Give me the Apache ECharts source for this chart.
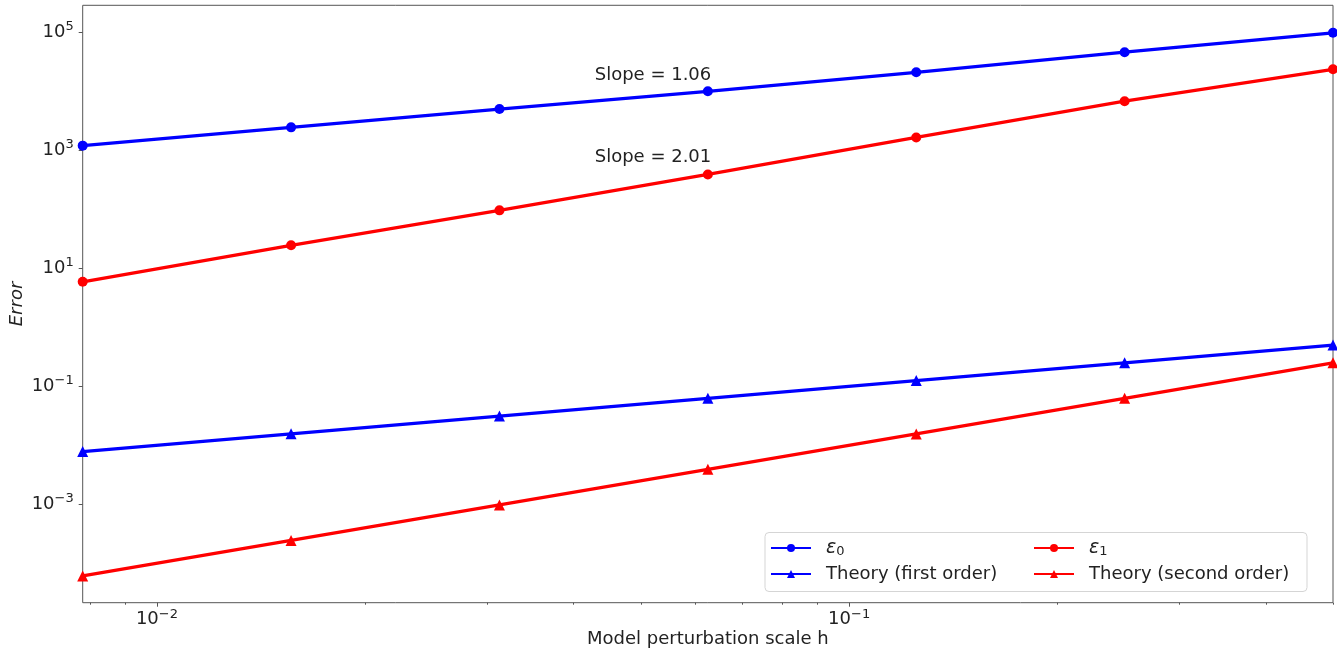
<!DOCTYPE html>
<html><head><meta charset="utf-8">
<script src="https://cdn.jsdelivr.net/npm/echarts@6/dist/echarts.min.js"></script>
<style>html,body{margin:0;padding:0;background:#fff}#c{width:1337px;height:652px}</style>
</head><body><div id="c"></div>
<script>
// ---- data ----
const hValues = [0.0078125, 0.015625, 0.03125, 0.0625, 0.125, 0.25, 0.5];
const eps0 = [1200, 2450, 5000, 10000, 21000, 46000, 98000];
const eps1 = [5.9, 24.5, 96, 390, 1650, 6800, 23600];
const theoryFirst = [0.0078125, 0.015625, 0.03125, 0.0625, 0.125, 0.25, 0.5];
const theorySecond = [6.1e-5, 2.44e-4, 9.77e-4, 3.91e-3, 0.0156, 0.0625, 0.25];
const seriesNames = ['ε0', 'Theory (first order)', 'ε1', 'Theory (second order)'];
const xMajorTicks = [0.01, 0.1];
const xMinorTicks = [0.008, 0.009, 0.02, 0.03, 0.04, 0.05, 0.06, 0.07, 0.08, 0.09, 0.2, 0.3, 0.4, 0.5];
const yMajorTicks = [1e-3, 1e-1, 1e1, 1e3, 1e5];
const slopeLabels = ['Slope = 1.06', 'Slope = 2.01'];

const FONT = 'DejaVu Sans';
const TXT = '#222';
const BLUE = '#0000ff', RED = '#ff0000';

function powLabel(v) {
  const e = Math.round(Math.log10(v));
  return '{b|10}{s|' + (e < 0 ? '\u2212' : '') + Math.abs(e) + '}';
}
const powRich = {
  b: { fontSize: 18, fontFamily: FONT, color: TXT, lineHeight: 24 },
  s: { fontSize: 13, fontFamily: FONT, color: TXT, lineHeight: 14, verticalAlign: 'top' }
};

function mk(name, vals, color, symbol) {
  return {
    name: name, type: 'line',
    data: hValues.map((h, i) => [h, vals[i]]),
    symbol: symbol, symbolSize: symbol === 'circle' ? 10 : 11,
    showSymbol: true, showAllSymbol: true,
    lineStyle: { color: color, width: 3.3 },
    itemStyle: { color: color },
    clip: true, animation: false, z: 2
  };
}

const legendCommon = {
  padding: 0, itemWidth: 40, itemHeight: 10, selectedMode: false,
  textStyle: {
    fontSize: 18, fontFamily: FONT, color: TXT, lineHeight: 20, padding: [0, 0, 0, 10],
    rich: {
      e: { fontSize: 19, fontFamily: FONT, color: TXT, lineHeight: 20, fontStyle: 'italic' },
      sub: { fontSize: 13, fontFamily: FONT, color: TXT, lineHeight: 14, verticalAlign: 'bottom' }
    }
  },
  formatter: function (n) {
    if (n === seriesNames[0]) return '{e|ε}{sub|0}';
    if (n === seriesNames[2]) return '{e|ε}{sub|1}';
    return n;
  }
};

const chart = echarts.init(document.getElementById('c'), null, { renderer: 'canvas' });
chart.setOption({
  animation: false,
  backgroundColor: '#fff',
  grid: { left: 82.7, top: 5.3, right: 4, bottom: 49.3, show: true, borderColor: '#555', borderWidth: 1,
          backgroundColor: 'transparent', containLabel: false, outerBoundsMode: 'none' },
  xAxis: [{
    type: 'log', logBase: 10, min: hValues[0], max: hValues[hValues.length - 1],
    name: 'Model perturbation scale h', nameLocation: 'middle', nameGap: 28, nameMoveOverlap: false,
    nameTextStyle: { fontSize: 18, fontFamily: FONT, color: TXT },
    axisLine: { show: false },
    axisTick: { show: true, length: 4, customValues: xMajorTicks, lineStyle: { color: '#555', width: 1 } },
    axisLabel: { show: true, customValues: xMajorTicks, margin: 5, formatter: powLabel, rich: powRich },
    splitLine: { show: false }, minorTick: { show: false }
  }, {
    type: 'log', logBase: 10, min: hValues[0], max: hValues[hValues.length - 1], position: 'bottom',
    axisLine: { show: false },
    axisTick: { show: true, length: 2, customValues: xMinorTicks, lineStyle: { color: '#555', width: 1 } },
    axisLabel: { show: false }, splitLine: { show: false }
  }],
  yAxis: [{
    type: 'log', logBase: 10, min: 2.148e-5, max: 2.869e5,
    name: 'Error', nameLocation: 'middle', nameGap: 56, nameRotate: 90, nameMoveOverlap: false,
    nameTextStyle: { fontSize: 18, fontFamily: FONT, color: TXT, fontStyle: 'italic' },
    axisLine: { show: false },
    axisTick: { show: true, length: 4, customValues: yMajorTicks, lineStyle: { color: '#555', width: 1 } },
    axisLabel: { show: true, customValues: yMajorTicks, margin: 9, formatter: powLabel, rich: powRich },
    splitLine: { show: false }
  }],
  legend: [
    Object.assign({}, legendCommon, { data: [seriesNames[0]], left: 770, top: 538 }),
    Object.assign({}, legendCommon, { data: [seriesNames[1]], left: 770, top: 564 }),
    Object.assign({}, legendCommon, { data: [seriesNames[2]], left: 1033, top: 538 }),
    Object.assign({}, legendCommon, { data: [seriesNames[3]], left: 1033, top: 564 })
  ],
  graphic: [
    { type: 'rect', z: 3, shape: { x: 765, y: 532.5, width: 542, height: 59, r: 4 },
      style: { fill: 'rgba(255,255,255,0.85)', stroke: '#d5d5d5', lineWidth: 1 } },
    { type: 'text', z: 5, x: 653, y: 75, style: { text: slopeLabels[0], fontSize: 18, fontFamily: FONT, fill: TXT, align: 'center', verticalAlign: 'middle', textAlign: 'center', textVerticalAlign: 'middle' } },
    { type: 'text', z: 5, x: 653, y: 157, style: { text: slopeLabels[1], fontSize: 18, fontFamily: FONT, fill: TXT, align: 'center', verticalAlign: 'middle', textAlign: 'center', textVerticalAlign: 'middle' } }
  ],
  series: [
    mk(seriesNames[0], eps0, BLUE, 'circle'),
    mk(seriesNames[1], theoryFirst, BLUE, 'triangle'),
    mk(seriesNames[2], eps1, RED, 'circle'),
    mk(seriesNames[3], theorySecond, RED, 'triangle')
  ]
});
</script></body></html>
